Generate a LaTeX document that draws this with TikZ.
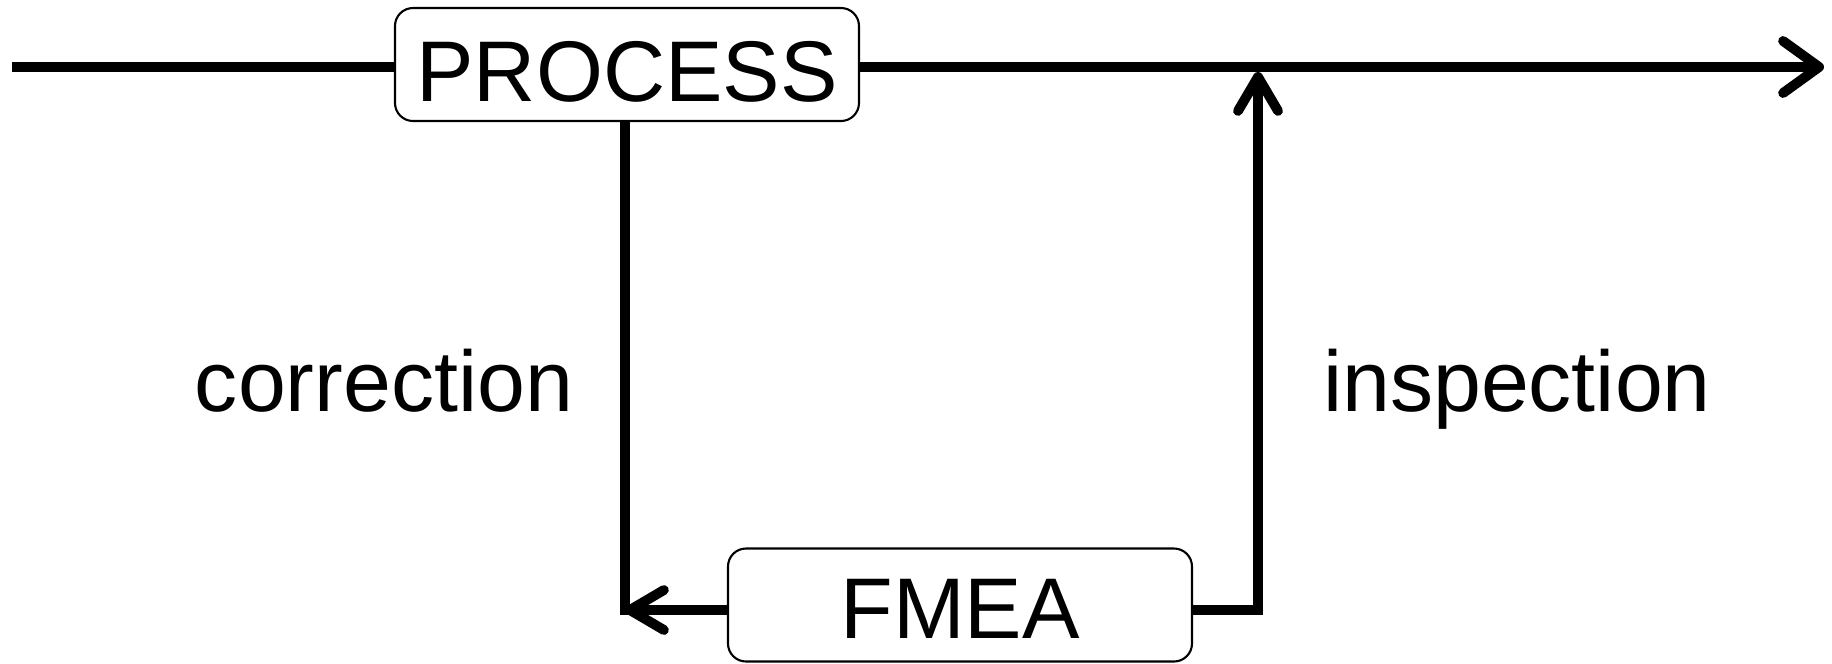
\documentclass[tikz,border=0pt]{standalone}
\usepackage{fontspec}
\setmainfont{Liberation Sans}
\usetikzlibrary{arrows.meta}

\begin{document}
\begin{tikzpicture}[box/.style={draw, line width=0.6pt, rounded corners=0.18cm, inner sep=0pt, text depth=0pt, minimum width=4.64cm, minimum height=1.13cm, font=\fontsize{24.5}{28}\selectfont},
  flow/.style={line width=2.8pt},
  lbl/.style={font=\fontsize{24.5}{28}\selectfont, anchor=base},
  tip/.style={-{Straight Barb[length=3.4mm,width=4mm,round]}},
  bigtip/.style={-{Straight Barb[length=3.6mm,width=5.2mm,round]}}]
\useasboundingbox (0,0) rectangle (18.32,-6.63);

\node[box, text height=0.74cm] (process) at (6.27,-0.645) {PROCESS};
\node[box, text height=0.66cm] (fmea) at (9.60,-6.05) {FMEA};
\node[lbl] (correction) at (3.84,-4.11) {correction};
\node[lbl] (inspection) at (15.17,-4.11) {inspection};

\coordinate (start) at (0.12,-0.67);
\coordinate (end) at (18.24,-0.67);
\coordinate (cl) at (6.25,-6.10);
\coordinate (jn) at (12.58,-0.72);

\draw[flow] (start) -- (start -| process.west);
\draw[flow, bigtip] (end -| process.east) -- (end);
\draw[flow, shorten >=-1.4pt] (cl |- process.south) -- (cl);
\draw[flow, tip] (fmea.west |- cl) -- (cl);
\draw[flow, tip] (fmea.east |- cl) -| (jn);
\end{tikzpicture}
\end{document}
